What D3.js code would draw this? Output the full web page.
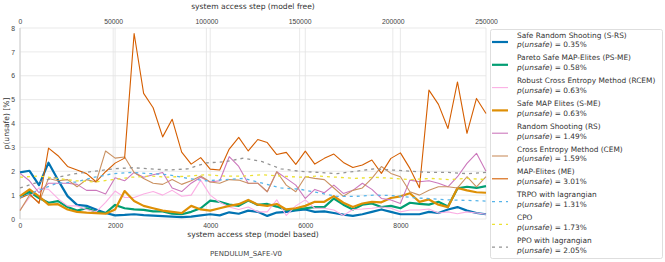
<!DOCTYPE html>
<html>
<head>
<meta charset="utf-8">
<script src="https://cdn.jsdelivr.net/npm/d3@7"></script>
<style>
  body { margin: 0; background: #fff; }
  svg { font-family: "DejaVu Sans", sans-serif; }
</style>
</head>
<body>
<svg id="chart" width="665" height="262"></svg>
<script>
// model based runs, every 200 system steps
const mbSteps = [0, 200, 400, 600, 800, 1000, 1200, 1400, 1600, 1800,
  2000, 2200, 2400, 2600, 2800, 3000, 3200, 3400, 3600, 3800,
  4000, 4200, 4400, 4600, 4800, 5000, 5200, 5400, 5600, 5800,
  6000, 6200, 6400, 6600, 6800, 7000, 7200, 7400, 7600, 7800,
  8000, 8200, 8400, 8600, 8800, 9000, 9200, 9400, 9600, 9800];

const srs = [1.95, 2.02, 1.42, 2.36, 1.63, 0.96, 0.59, 0.55, 0.4, 0.25,
  0.15, 0.17, 0.2, 0.16, 0.14, 0.12, 0.1, 0.08, 0.1, 0.15,
  0.2, 0.15, 0.28, 0.22, 0.35, 0.3, 0.13, 0.27, 0.3, 0.36,
  0.4, 0.3, 0.32, 0.25, 0.18, 0.13, 0.2, 0.3, 0.4, 0.3,
  0.2, 0.2, 0.2, 0.3, 0.25, 0.4, 0.5, 0.35, 0.25, 0.2];
const psme = [0.93, 1.14, 0.88, 0.68, 0.75, 0.5, 0.35, 0.45, 0.3, 0.25,
  0.59, 0.45, 0.4, 0.38, 0.32, 0.32, 0.22, 0.2, 0.3, 0.45,
  0.77, 0.72, 0.6, 0.55, 0.77, 0.59, 0.63, 0.52, 0.38, 0.4,
  0.45, 0.5, 0.5, 0.86, 0.6, 0.4, 0.6, 0.65, 0.5, 0.55,
  0.45, 0.68, 0.63, 0.6, 0.72, 0.52, 1.28, 1.35, 1.3, 1.38];
const rcem = [0.38, 0.9, 1.3, 1.24, 0.85, 0.55, 0.55, 0.4, 0.3, 0.7,
  1.17, 0.9, 0.9, 1.05, 1.15, 1.0, 1.2, 0.95, 1.0, 1.63,
  1.0, 0.7, 0.5, 0.4, 0.5, 0.3, 0.3, 0.8, 0.15, 0.55,
  0.8, 0.45, 0.45, 0.38, 0.15, 0.4, 0.42, 0.45, 0.5, 0.45,
  0.3, 0.38, 0.38, 0.42, 0.25, 0.3, 0.22, 0.3, 0.25, 0.2];
const sme = [0.96, 1.24, 0.95, 0.6, 0.62, 0.4, 0.3, 0.27, 0.25, 0.22,
  0.4, 1.17, 0.75, 0.55, 0.45, 0.35, 0.3, 0.25, 0.55, 0.4,
  0.35, 0.45, 0.55, 0.62, 0.8, 0.6, 0.55, 0.63, 0.4, 0.45,
  0.55, 0.72, 0.72, 0.96, 0.68, 0.5, 0.65, 0.72, 0.7, 0.88,
  0.95, 1.08, 0.72, 0.82, 0.6, 0.5, 1.3, 1.2, 1.12, 1.1];
const rs = [1.91, 1.6, 1.1, 1.5, 1.5, 1.5, 1.45, 1.2, 1.2, 1.05,
  1.73, 1.6, 1.95, 1.75, 1.85, 1.95, 1.3, 1.15, 1.5, 1.75,
  1.55, 1.6, 2.61, 2.2, 1.49, 1.5, 1.14, 1.98, 1.7, 1.42,
  0.86, 1.24, 1.1, 1.42, 1.07, 1.2, 1.5, 1.24, 0.86, 0.8,
  0.65, 1.63, 1.56, 1.6, 1.5, 1.35, 1.77, 2.33, 2.75, 2.0];
const cem = [0.35, 1.0, 0.7, 1.7, 1.6, 1.65, 1.35, 1.65, 1.55, 2.85,
  2.55, 2.6, 1.95, 1.7, 1.5, 1.45, 1.65, 1.45, 1.6, 1.8,
  1.55, 1.5, 1.65, 1.63, 1.5, 1.5, 1.14, 1.98, 1.42, 1.14,
  1.77, 1.7, 1.65, 1.3, 0.95, 1.2, 1.3, 1.7, 2.2, 1.91,
  1.77, 1.14, 1.0, 1.2, 1.35, 1.35, 1.3, 1.77, 1.35, 1.77];
const me = [0.87, 1.05, 0.65, 2.97, 2.65, 2.2, 2.05, 1.9, 1.56, 1.98,
  2.34, 2.55, 7.77, 5.26, 4.66, 3.44, 4.18, 2.8, 2.3, 2.57,
  2.09, 2.05, 2.93, 3.42, 2.85, 3.33, 3.2, 2.7, 2.79, 2.29,
  2.84, 2.3, 2.54, 2.72, 2.37, 2.16, 2.26, 2.47, 1.91, 2.54,
  2.77, 2.12, 1.31, 5.4, 4.8, 3.79, 5.74, 3.59, 5.05, 4.42];

// model free runs, every 10000 system steps (top axis)
const mfSteps = [0, 10000, 20000, 30000, 40000, 50000, 60000, 70000, 80000, 90000,
  100000, 110000, 120000, 130000, 140000, 150000, 160000, 170000, 180000, 190000,
  200000, 210000, 220000, 230000, 240000, 250000];
const trpo = [0.9, 1.2, 1.5, 1.55, 1.75, 1.9, 1.95, 1.9, 1.85, 1.7,
  1.6, 1.65, 1.7, 1.5, 1.3, 1.25, 1.1, 0.95, 0.95, 1.0,
  0.98, 0.9, 0.85, 0.8, 0.78, 0.75];
const cpo = [1.75, 1.8, 1.7, 1.6, 1.55, 1.65, 1.75, 1.8, 1.75, 1.8,
  1.85, 1.8, 1.8, 1.85, 1.8, 1.75, 1.8, 1.75, 1.7, 1.75,
  1.7, 1.65, 1.7, 1.65, 1.7, 1.65];
const ppo = [1.3, 1.55, 1.75, 1.9, 2.0, 2.1, 2.15, 2.1, 2.05, 2.1,
  2.35, 2.4, 2.55, 2.4, 2.1, 2.0, 1.95, 1.9, 2.0, 2.1,
  2.05, 2.0, 1.95, 1.95, 1.9, 1.95];

const names = ["Safe Random Shooting (S-RS)", "Pareto Safe MAP-Elites (PS-ME)",
  "Robust Cross Entropy Method (RCEM)", "Safe MAP Elites (S-ME)", "Random Shooting (RS)",
  "Cross Entropy Method (CEM)", "MAP-Elites (ME)", "TRPO with lagrangian", "CPO",
  "PPO with lagrangian"];
const pUnsafe = ["0.35", "0.58", "0.63", "0.63", "1.49", "1.59", "3.01", "1.31", "1.73", "2.05"];
const colors = ["#0173b2", "#029e73", "#fbafe4", "#de8f05", "#cc78bc",
  "#ca9161", "#d55e00", "#56b4e9", "#ece133", "#949494"];

const bottomTicks = [0, 2000, 4000, 6000, 8000];
const topTicks = [0, 50000, 100000, 150000, 200000, 250000];
const yTicks = [0, 1, 2, 3, 4, 5, 6, 7, 8];

const series = [
  { vals: srs, free: false, width: 2.2 },
  { vals: psme, free: false, width: 2.2 },
  { vals: rcem, free: false, width: 1.1 },
  { vals: sme, free: false, width: 2.2 },
  { vals: rs, free: false, width: 1.1 },
  { vals: cem, free: false, width: 1.1 },
  { vals: me, free: false, width: 1.1 },
  { vals: trpo, free: true, width: 1.3 },
  { vals: cpo, free: true, width: 1.3 },
  { vals: ppo, free: true, width: 1.3 }
];

const svg = d3.select("#chart");
const plotL = 20, plotR = 486, plotT = 28, plotB = 219;

const x = d3.scaleLinear().domain([0, 9800]).range([plotL, plotR]);
const xTop = d3.scaleLinear().domain([0, 250000]).range([plotL, plotR]);
const y = d3.scaleLinear().domain([0, 8]).range([plotB, plotT]);

// grid
const grid = svg.append("g").attr("stroke", "#e3e3e3").attr("stroke-width", 0.8);
grid.selectAll("line.h").data(yTicks).join("line")
  .attr("x1", plotL).attr("x2", plotR)
  .attr("y1", d => y(d)).attr("y2", d => y(d));
grid.selectAll("line.vb").data(bottomTicks).join("line")
  .attr("x1", d => x(d)).attr("x2", d => x(d))
  .attr("y1", plotT).attr("y2", plotB);
grid.selectAll("line.vt").data(topTicks).join("line")
  .attr("x1", d => xTop(d)).attr("x2", d => xTop(d))
  .attr("y1", plotT).attr("y2", plotB);

// axes
function styleAxis(g) {
  g.select(".domain").remove();
  g.selectAll(".tick line").remove();
  g.selectAll(".tick text").attr("fill", "#444").attr("font-size", 6.8);
}
svg.append("g").attr("transform", `translate(0,${plotB + 1})`)
  .call(d3.axisBottom(x).tickValues(bottomTicks).tickFormat(d3.format("d")).tickSize(0).tickPadding(3))
  .call(styleAxis);
svg.append("g").attr("transform", `translate(0,${plotT - 2})`)
  .call(d3.axisTop(xTop).tickValues(topTicks).tickFormat(d3.format("d")).tickSize(0).tickPadding(2))
  .call(styleAxis);
svg.append("g").attr("transform", `translate(${plotL - 3},0)`)
  .call(d3.axisLeft(y).tickValues(yTicks).tickFormat(d3.format("d")).tickSize(0).tickPadding(2))
  .call(styleAxis);

svg.append("line").attr("x1", plotL).attr("x2", plotL).attr("y1", plotT).attr("y2", plotB)
  .attr("stroke", "#d0d0d0").attr("stroke-width", 0.8);

// titles
svg.append("text").attr("x", 253).attr("y", 9).attr("text-anchor", "middle")
  .attr("font-size", 7.6).attr("fill", "#333").text("system access step (model free)");
svg.append("text").attr("x", 253).attr("y", 237).attr("text-anchor", "middle")
  .attr("font-size", 7.6).attr("fill", "#333").text("system access step (model based)");
svg.append("text").attr("x", 246).attr("y", 256).attr("text-anchor", "middle")
  .attr("font-size", 7).attr("fill", "#444").text("PENDULUM_SAFE-V0");
svg.append("text").attr("transform", `translate(9,${(plotT + plotB) / 2}) rotate(-90)`)
  .attr("text-anchor", "middle").attr("font-size", 7.6).attr("fill", "#333")
  .text("p(unsafe) [%]");

// lines
const lineMb = d3.line().x((d, i) => x(mbSteps[i])).y(d => y(d));
const lineMf = d3.line().x((d, i) => xTop(mfSteps[i])).y(d => y(d));

svg.append("g").selectAll("path").data(series).join("path")
  .attr("d", d => (d.free ? lineMf : lineMb)(d.vals))
  .attr("fill", "none")
  .attr("stroke", (d, i) => colors[i])
  .attr("stroke-width", d => d.width)
  .attr("stroke-dasharray", d => d.free ? "3,4" : null)
  .attr("stroke-linejoin", "round");

// legend
const lg = svg.append("g");
lg.append("rect").attr("x", 490.5).attr("y", 29.5).attr("width", 172).attr("height", 229)
  .attr("rx", 2).attr("fill", "#fff").attr("stroke", "#d6d6d6").attr("stroke-width", 0.8);

const entry = lg.selectAll("g.entry").data(names).join("g")
  .attr("transform", (d, i) => `translate(0,${35 + i * 22.8})`);
entry.append("line")
  .attr("x1", 492).attr("x2", 508).attr("y1", 7).attr("y2", 7)
  .attr("stroke", (d, i) => colors[i])
  .attr("stroke-width", (d, i) => series[i].width)
  .attr("stroke-dasharray", (d, i) => series[i].free ? "3,4" : null);
entry.append("text").attr("x", 517).attr("y", 2.6)
  .attr("font-size", 7.4).attr("fill", "#333").text(d => d);
const pt = entry.append("text").attr("x", 517).attr("y", 12.4)
  .attr("font-size", 7.4).attr("fill", "#333");
pt.append("tspan").attr("font-style", "italic").text("p");
pt.append("tspan").text("(");
pt.append("tspan").attr("font-style", "italic").text("unsafe");
pt.append("tspan").text(") = ");
pt.append("tspan").text((d, i) => pUnsafe[i] + "%");
</script>
</body>
</html>
